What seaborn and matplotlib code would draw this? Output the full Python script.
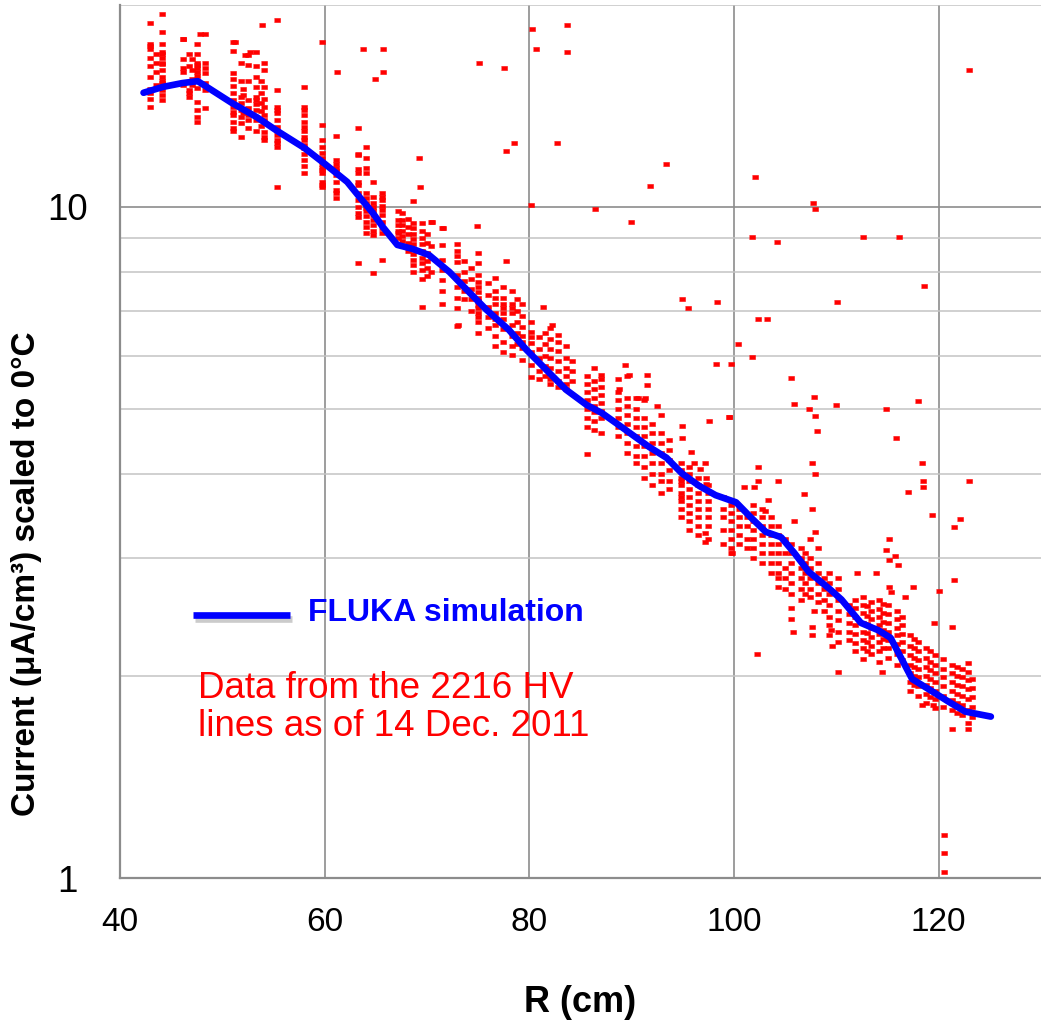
import matplotlib.pyplot as plt
import matplotlib.ticker as mticker
import matplotlib.patheffects as pe
import numpy as np
import pandas as pd
import seaborn as sns

# FLUKA simulation curve
fluka_r = [42.3, 44.2, 46.1, 47.6, 50.9, 53.4, 55.3, 58.0, 60.0, 62.2,
           63.4, 64.7, 65.7, 67.1, 68.6, 70.2, 72.2, 74.1, 75.8, 78.0,
           79.7, 81.7, 83.6, 85.6, 87.1, 89.1, 91.7, 93.4, 94.9, 96.6,
           98.2, 100.2, 101.7, 103.1, 104.6, 105.9, 107.3, 109.3, 110.5, 112.4,
           114.1, 115.3, 117.4, 119.3, 121.0, 122.6, 125.1]
fluka_i = [14.8, 15.1, 15.3, 15.4, 14.3, 13.6, 13.0, 12.25, 11.6, 10.9,
           10.35, 9.8, 9.33, 8.78, 8.66, 8.48, 8.0, 7.47, 7.03, 6.56,
           6.13, 5.71, 5.34, 5.07, 4.93, 4.69, 4.39, 4.23, 4.01, 3.84,
           3.72, 3.63, 3.44, 3.28, 3.22, 3.05, 2.86, 2.70, 2.60, 2.40,
           2.34, 2.28, 1.98, 1.90, 1.83, 1.77, 1.74]

# HV line measurements, grouped by radius column
col_r = [42.9, 44.1, 46.2, 46.7, 47.5, 48.3, 51.0, 51.8, 52.5, 53.3,
         54.1, 55.3, 58.0, 59.7, 61.1, 63.3, 64.0, 64.7, 65.6, 67.2,
         67.6, 68.6, 69.5, 70.4, 71.5, 72.9, 75.0, 76.6, 77.4, 78.3,
         79.3, 80.2, 80.9, 82.0, 82.8, 83.6, 85.6, 86.3, 87.0, 88.7,
         89.5, 90.4, 91.2, 92.0, 92.9, 93.6, 94.8, 95.6, 96.5, 97.5,
         99.7, 100.5, 101.9, 102.7, 103.6, 104.3, 105.6, 106.5, 107.4, 108.2,
         109.3, 110.2, 111.8, 112.6, 113.4, 114.2, 115.0, 115.9, 117.2, 118.0,
         118.8, 119.6, 120.4, 121.3, 122.3, 122.9, 120.5,
         98.9, 101.3, 105.0, 106.9, 108.8, 111.2, 113.0, 114.6, 116.4, 117.6,
         119.2, 121.8, 123.3, 76.0, 78.8, 81.5, 84.2, 68.1, 70.0, 73.6,
         74.3, 52.0, 53.8, 47.0, 43.5]
col_i = [
    [18.8, 17.5, 17.4, 17.2, 16.7, 16.2, 15.6, 15.0, 14.8, 14.5, 14.1],
    [19.4, 18.2, 17.5, 17.0, 16.9, 16.7, 16.4, 16.35, 16.0, 15.6, 15.4, 15.3, 14.95, 14.7, 14.45],
    [17.8, 16.6, 16.1, 15.9, 15.2],
    [16.9, 16.2, 14.95, 14.8, 14.6],
    [17.5, 16.9, 16.4, 16.3, 16.1, 15.9, 15.7, 15.4, 15.05, 14.35, 13.95, 13.6, 13.4],
    [18.1, 16.4, 16.1, 15.85, 15.3, 14.95, 14.05],
    [17.6, 17.1, 15.85, 15.5, 15.15, 14.8, 14.45, 14.1, 13.85, 13.7, 13.4, 13.1, 13.0],
    [16.4, 15.4, 14.6, 14.3, 13.95, 13.6, 13.35, 12.7],
    [16.85, 16.3, 15.4, 14.45, 14.05, 13.7, 13.5, 13.1],
    [17.0, 16.2, 15.6, 15.1, 14.6, 14.45, 14.25, 13.95, 13.5, 13.0],
    [16.4, 16.0, 15.1, 14.5, 14.1, 13.7, 13.5, 13.35, 12.95, 12.7, 12.6],
    [14.95, 14.1, 13.95, 13.8, 13.5, 13.15, 12.8, 12.6, 12.45, 12.3, 10.7],
    [15.1, 14.1, 13.95, 13.7, 13.4, 13.15, 13.0, 12.7, 12.6, 12.35, 12.25, 12.0, 11.75, 11.5, 11.25],
    [13.25, 12.6, 12.3, 12.05, 11.85, 11.6, 11.45, 11.35, 11.25, 10.9, 10.8, 10.7],
    [12.75, 11.75, 11.6, 11.45, 11.3, 11.15, 10.9, 10.6, 10.5, 10.3],
    [13.1, 12.0, 11.95, 11.4, 11.25, 10.9, 10.8, 10.5, 10.25, 10.0, 9.8, 9.65, 8.25],
    [12.3, 11.85, 11.45, 11.25, 10.5, 10.3, 10.15, 10.05, 9.95, 9.85, 9.7, 9.5, 9.33, 9.15],
    [10.9, 10.35, 10.15, 10.0, 9.85, 9.73, 9.55, 9.4, 9.2, 9.08, 7.97],
    [10.5, 10.35, 10.25, 10.05, 9.9, 9.73, 9.5, 9.3, 9.15, 8.35],
    [9.85, 9.55, 9.4, 9.2, 9.15, 9.0],
    [9.8, 9.55, 9.4, 9.2, 9.05, 8.9],
    [9.45, 9.3, 9.1, 8.95, 8.8, 8.65, 8.5, 8.35, 8.2, 8.0],
    [9.45, 9.2, 9.0, 8.8, 8.6, 8.4, 8.25, 8.05, 7.8, 7.1],
    [9.5, 8.75, 8.4, 8.0],
    [9.3, 8.78, 8.35, 8.05, 7.78, 7.5, 7.18],
    [8.6, 8.45, 8.28, 7.92, 7.6, 7.33, 7.08, 6.65],
    [8.55, 8.25, 7.92, 7.73, 7.6, 7.47, 7.33, 7.25, 7.15, 7.07, 6.95, 6.85, 6.75, 6.5],
    [7.85, 7.5, 7.33, 7.18, 6.95, 6.8, 6.67, 6.42, 6.2],
    [7.6, 7.33, 7.18, 7.07, 6.95, 6.8, 6.57, 6.3, 6.08],
    [7.5, 7.18, 7.07, 6.95, 6.67, 6.42, 6.2, 6.02],
    [7.18, 6.87, 6.63, 6.42, 6.3, 6.17, 5.92],
    [6.75, 6.52, 6.4, 6.28, 6.07, 5.82, 5.58],
    [6.4, 6.15, 5.95, 5.7, 5.55],
    [6.6, 6.35, 6.15, 5.95, 5.75, 5.55, 5.45],
    [6.45, 6.3, 6.1, 5.9, 5.7, 5.5, 5.4],
    [6.2, 5.95, 5.75, 5.6, 5.45, 5.35],
    [5.6, 5.45, 5.3, 5.15, 5.0, 4.85, 4.7, 4.28],
    [5.75, 5.5, 5.35, 5.2, 5.05, 4.95, 4.8, 4.65],
    [5.55, 5.4, 5.25, 5.1, 4.97, 4.85, 4.6],
    [5.55, 5.3, 5.15, 5.0, 4.85, 4.7, 4.55],
    [5.6, 5.2, 5.05, 4.9, 4.75, 4.6, 4.45, 4.3],
    [5.2, 5.0, 4.85, 4.7, 4.55, 4.4, 4.25, 4.15],
    [5.15, 4.85, 4.7, 4.55, 4.4, 4.25, 4.1, 3.95],
    [4.75, 4.6, 4.45, 4.3, 4.15, 4.0, 3.85],
    [4.9, 4.6, 4.45, 4.3, 4.15, 4.0, 3.9, 3.75],
    [4.5, 4.35, 4.2, 4.05, 3.9, 3.8],
    [4.15, 4.05, 3.95, 3.9, 3.85, 3.75, 3.7, 3.65, 3.55, 3.45],
    [4.1, 4.0, 3.9, 3.8, 3.7, 3.6, 3.5, 3.4, 3.3],
    [3.95, 3.85, 3.75, 3.65, 3.55, 3.45, 3.35, 3.25],
    [3.85, 3.75, 3.65, 3.55, 3.45, 3.35, 3.2],
    [3.6, 3.5, 3.4, 3.3, 3.2, 3.1, 3.05],
    [3.55, 3.45, 3.35, 3.25, 3.15],
    [3.6, 3.5, 3.4, 3.3, 3.2, 3.1, 3.0],
    [3.55, 3.45, 3.35, 3.25, 3.15, 3.05, 2.95],
    [3.45, 3.35, 3.25, 3.15, 3.05, 2.95, 2.85],
    [3.35, 3.25, 3.15, 3.05, 2.95, 2.8],
    [3.15, 3.05, 2.95, 2.85, 2.75, 2.65],
    [3.1, 3.0, 2.9, 2.8, 2.7, 2.6],
    [3.2, 3.0, 2.9, 2.8, 2.7, 2.62],
    [2.95, 2.85, 2.75, 2.65, 2.58],
    [2.85, 2.75, 2.65, 2.55, 2.45, 2.38, 2.3],
    [2.8, 2.7, 2.6, 2.5, 2.42, 2.33, 2.25],
    [2.6, 2.53, 2.45, 2.38, 2.31, 2.24, 2.18],
    [2.62, 2.55, 2.48, 2.4, 2.33, 2.26, 2.2, 2.12],
    [2.58, 2.5, 2.43, 2.36, 2.29, 2.22, 2.16],
    [2.6, 2.52, 2.45, 2.38, 2.31, 2.25, 2.18, 2.1],
    [2.55, 2.47, 2.4, 2.33, 2.26, 2.2, 2.13],
    [2.5, 2.43, 2.36, 2.3, 2.23, 2.16, 2.08],
    [2.3, 2.22, 2.15, 2.08, 2.02, 1.96, 1.9],
    [2.25, 2.18, 2.11, 2.05, 1.99, 1.93, 1.87],
    [2.2, 2.13, 2.06, 2.0, 1.94, 1.88, 1.82],
    [2.15, 2.08, 2.02, 1.96, 1.9, 1.85, 1.79],
    [2.12, 2.05, 1.99, 1.93, 1.87, 1.8],
    [2.08, 2.02, 1.96, 1.9, 1.84, 1.78, 1.67],
    [2.05, 1.99, 1.93, 1.87, 1.81, 1.75],
    [2.03, 1.97, 1.91, 1.85, 1.78, 1.7, 1.67],
    [1.16, 1.09, 1.02],
    [3.7, 3.55, 3.45, 3.3, 3.15],
    [3.45, 3.35, 3.2, 3.1],
    [3.2, 3.05, 2.9, 2.8, 2.7],
    [3.05, 2.95, 2.85, 2.75, 2.65],
    [2.8, 2.7, 2.6, 2.5],
    [2.55, 2.47, 2.4, 2.33, 2.26],
    [2.54, 2.46, 2.39, 2.32, 2.25, 2.18],
    [2.56, 2.48, 2.41, 2.34, 2.27, 2.2],
    [2.45, 2.38, 2.31, 2.25, 2.18, 2.11],
    [2.27, 2.2, 2.13, 2.06, 2.0, 1.94],
    [2.18, 2.1, 2.04, 1.98, 1.92, 1.86],
    [2.06, 2.0, 1.94, 1.88, 1.82, 1.76],
    [1.98, 1.92, 1.86, 1.8, 1.74],
    [7.7, 7.4, 7.1, 6.85, 6.6],
    [7.3, 7.0, 6.75, 6.5, 6.25],
    [6.5, 6.25, 6.0, 5.8, 5.6],
    [5.9, 5.7, 5.5],
    [9.6, 9.35, 9.1, 8.85, 8.6],
    [9.1, 8.85, 8.55, 8.3, 8.1, 7.9],
    [8.3, 8.0, 7.75, 7.5, 7.3],
    [8.1, 7.8, 7.55, 7.3, 7.0],
    [15.0, 14.7, 14.0, 13.8],
    [15.4, 14.8, 14.3, 13.9, 13.2],
    [16.6, 16.0, 15.5, 15.2],
    [16.9, 16.4, 15.9, 15.2],
]

# scattered single lines away from the band
out_r = [53.9, 55.3, 59.7, 63.7, 65.7, 65.7, 64.9, 61.2, 75.1, 77.5,
         78.5, 77.7, 69.2, 69.3, 68.6, 80.3, 80.7, 83.7, 83.7, 82.7,
         93.4, 91.8, 102.1, 80.2, 86.4, 89.9, 101.8, 104.2, 74.9, 72.9,
         107.7, 107.9, 112.6, 116.1, 123.0, 118.6, 110.1, 94.9, 95.5, 98.3,
         102.3, 103.2, 100.4, 101.8, 98.2, 99.7, 105.6, 107.8, 105.9, 107.3,
         110.0, 114.9, 118.0, 107.9, 99.5, 108.1, 115.8, 118.4, 107.6, 107.9,
         104.3, 106.8, 117.0, 107.6, 118.5, 118.5, 123.0, 122.1, 121.5, 119.3,
         121.5, 120.0, 107.9, 108.2, 115.1, 114.9, 115.1, 115.7, 116.0, 112.0,
         113.9, 115.1, 115.3, 116.7, 117.5, 114.5, 102.2, 104.3, 104.3, 105.9,
         105.6, 105.6, 105.8, 107.6, 107.6, 107.8, 109.5, 109.6, 110.2, 118.4,
         119.4, 121.3, 119.5, 122.9, 94.9, 94.9, 95.8, 97.6, 97.2, 97.2,
         97.2, 99.8, 102.3, 102.3, 101.0, 102.0, 103.3, 103.0, 91.5, 91.5,
         91.3, 92.5, 96.1, 96.7, 97.3, 97.3, 99.5, 87.0, 89.3, 89.7,
         90.6, 88.8, 81.3, 82.2, 77.7, 73.0, 70.5, 71.6, 47.8, 46.2,
         51.2, 52.7, 52.2]
out_i = [18.7, 19.0, 17.6, 17.2, 17.2, 15.9, 15.5, 15.9, 16.4, 16.1,
         12.45, 12.1, 11.85, 10.7, 10.2, 18.4, 17.2, 18.7, 17.0, 12.45,
         11.6, 10.75, 11.1, 10.07, 9.93, 9.5, 9.02, 8.87, 9.37, 8.81,
         10.15, 9.93, 9.02, 9.02, 16.0, 7.62, 7.21, 7.29, 7.07, 7.21,
         6.81, 6.81, 6.24, 5.98, 5.84, 5.84, 5.56, 5.21, 5.09, 5.0,
         5.07, 5.0, 5.14, 4.88, 4.86, 4.63, 4.52, 4.16, 4.16, 4.0,
         3.9, 3.74, 3.76, 3.55, 3.9, 3.82, 3.9, 3.43, 3.33, 3.48,
         2.78, 2.68, 3.28, 3.1, 3.2, 3.08, 2.98, 3.02, 2.93, 2.85,
         2.85, 2.71, 2.67, 2.62, 2.71, 2.03, 2.16, 2.85, 2.71, 3.4,
         2.53, 2.43, 2.33, 2.37, 2.3, 2.5, 2.34, 2.22, 2.03, 1.81,
         1.81, 2.37, 2.4, 2.09, 4.72, 4.52, 4.32, 4.8, 4.16, 3.27,
         3.17, 3.05, 4.1, 3.9, 3.82, 3.82, 3.66, 3.52, 5.62, 5.43,
         5.2, 5.05, 4.16, 4.07, 3.95, 3.87, 4.87, 5.62, 5.82, 5.62,
         5.2, 5.35, 7.1, 6.67, 8.3, 6.67, 9.5, 9.3, 18.1, 17.8,
         17.6, 17.0, 16.85]

rows = []
for r, vals in zip(col_r, col_i):
    for v in vals:
        rows.append((r, v))
rows += list(zip(out_r, out_i))
data = pd.DataFrame(rows, columns=["R", "I"])
sim = pd.DataFrame({"R": fluka_r, "I": fluka_i})

sns.set_style("white")
plt.rcParams['font.family'] = ['Liberation Sans', 'DejaVu Sans']
plt.rcParams['text.color'] = 'black'
plt.rcParams['axes.labelcolor'] = 'black'
plt.rcParams['xtick.color'] = 'black'
plt.rcParams['ytick.color'] = 'black'

fig = plt.figure(figsize=(10.41, 10.24), dpi=100)
ax = fig.add_axes([120 / 1041, 1 - 878 / 1024, 921 / 1041, 873 / 1024])

# small Excel-like dash marker
dash = [(-1, -0.55), (1, -0.55), (1, 0.55), (-1, 0.55)]
sns.scatterplot(data=data, x="R", y="I", ax=ax, color="#ff0000", marker=dash,
                s=24, linewidth=0.4, edgecolor="#ff0000", zorder=3, legend=False)
sns.lineplot(data=sim, x="R", y="I", ax=ax, sort=False, color="#0000ff",
             lw=4.8, zorder=4, legend=False)

ax.set_yscale("log")
ax.set_xlim(40, 130)
ax.set_ylim(1, 20)
ax.xaxis.set_major_locator(mticker.FixedLocator([40, 60, 80, 100, 120]))
ax.yaxis.set_major_locator(mticker.FixedLocator([1, 10]))
ax.yaxis.set_minor_locator(mticker.FixedLocator([2, 3, 4, 5, 6, 7, 8, 9, 20]))
ax.yaxis.set_major_formatter(mticker.FuncFormatter(lambda v, p: f"{v:g}"))
ax.yaxis.set_minor_formatter(mticker.NullFormatter())

ax.grid(which="major", axis="both", color="#8c8c8c", lw=1.2, zorder=0)
ax.grid(which="minor", axis="y", color="#c4c4c4", lw=1.1, zorder=0)
ax.set_axisbelow(True)
ax.tick_params(which="both", length=0)
ax.tick_params(axis="y", labelsize=26.5, pad=38)
ax.tick_params(axis="x", labelsize=24, pad=21)
for lab in ax.get_yticklabels():
    lab.set_horizontalalignment("center")

for side in ["top", "right"]:
    ax.spines[side].set_visible(False)
for side in ["left", "bottom"]:
    ax.spines[side].set_color("#8c8c8c")
    ax.spines[side].set_linewidth(1.6)

ax.set_xlabel("R (cm)", fontsize=26, fontweight="bold", va="center")
ax.xaxis.set_label_coords(0.5, -0.143)
ax.set_ylabel("Current (\u03bcA/cm\u00b3) scaled to 0\u00b0C", fontsize=24,
              fontweight="bold", va="center")
ax.yaxis.set_label_coords(-0.101, 0.348)

# key for the simulation curve
ax.plot([0.079, 0.185], [0.301, 0.301], transform=ax.transAxes, color="#0000ff",
        lw=4.8, solid_capstyle="butt", zorder=5,
        path_effects=[pe.SimpleLineShadow(offset=(1.5, -2.5), shadow_color="#555555", alpha=0.3),
                      pe.Normal()])
ax.text(0.204, 0.303, "FLUKA simulation", transform=ax.transAxes, color="#0000ff",
        fontsize=23, fontweight="bold", va="center", ha="left", zorder=5)
ax.text(0.085, 0.195, "Data from the 2216 HV\nlines as of 14 Dec. 2011",
        transform=ax.transAxes, color="#ff0000", fontsize=26.5, va="center",
        ha="left", linespacing=1.12, zorder=5)

plt.savefig("out.png", dpi=100)
plt.close()
